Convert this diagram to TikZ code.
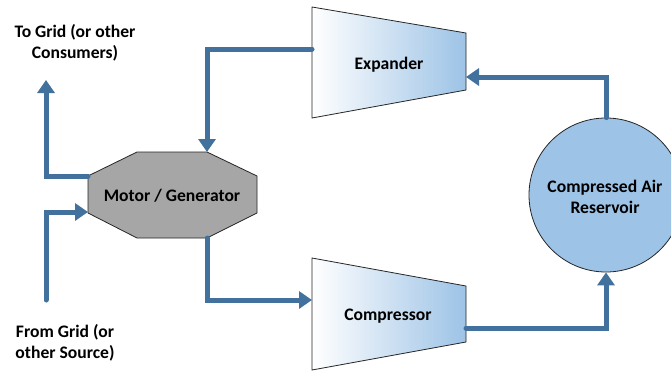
\documentclass[tikz,border=0pt]{standalone}
\usepackage{fontspec}
\setmainfont{Carlito}
\usetikzlibrary{arrows.meta}
\definecolor{arr}{HTML}{41719C}
\definecolor{resfill}{HTML}{9DC3E6}
\definecolor{octfill}{HTML}{A6A6A6}
\definecolor{edge}{HTML}{262626}
\begin{document}
\begin{tikzpicture}[x=1pt,y=-1pt,
  flow/.style={draw=arr, line width=5pt, line cap=round, -{Triangle[length=13pt,width=17pt]}},
  lbl/.style={font=\bfseries\fontsize{17.6}{21}\selectfont, align=center, inner sep=0pt},
  shapeline/.style={draw=edge, line width=0.8pt},
  machine/.style={shapeline, left color=white, right color=resfill, shading angle=90}]
\useasboundingbox (0,0) rectangle (671,372);

% Expander
\shade[machine] (312,7) -- (466,33) -- (466,90) -- (312,118) -- cycle;
\node[lbl] (exp) at (389,65) {Expander};
% Compressor
\shade[machine] (312,258) -- (466,286) -- (466,342) -- (312,370) -- cycle;
\node[lbl] (comp) at (388,316) {Compressor};
% Motor / Generator
\filldraw[shapeline, fill=octfill] (137,152) -- (207,152) -- (257,176) -- (257,213) -- (207,238) -- (137,238) -- (88,213) -- (88,176) -- cycle;
\node[lbl] (mg) at (172,196) {Motor / Generator};
% Reservoir
\node[circle, shapeline, fill=resfill, minimum size=154pt, inner sep=0pt] (res) at (606,195) {};
\node[lbl] (restext) at (605,197) {Compressed Air\\Reservoir};

% labels
\node[lbl] (toGrid) at (75,43) {To Grid (or other\\Consumers)};
\node[lbl] (fromGrid) at (65,343) {From Grid (or\\other Source)};

% connection points
\coordinate (expIn) at (466,77);
\coordinate (expOut) at (312,49);
\coordinate (compIn) at (312,300);
\coordinate (compOut) at (466,328);
\coordinate (mgTop) at (207,152);
\coordinate (mgBot) at (207,238);
\coordinate (mgLeftUp) at (88,176);
\coordinate (mgLeftLow) at (88,212);
\coordinate (gridOut) at (46,80);
\coordinate (gridIn) at (46,300);

% connectors
\draw[flow] (expOut) -| (mgTop);
\draw[flow] (res.north) |- (expIn);
\draw[flow] (compOut) -| (res.south);
\draw[flow] (mgBot) |- (compIn);
\draw[flow] (mgLeftUp) -| (gridOut);
\draw[flow] (gridIn) |- (mgLeftLow);
\end{tikzpicture}
\end{document}
